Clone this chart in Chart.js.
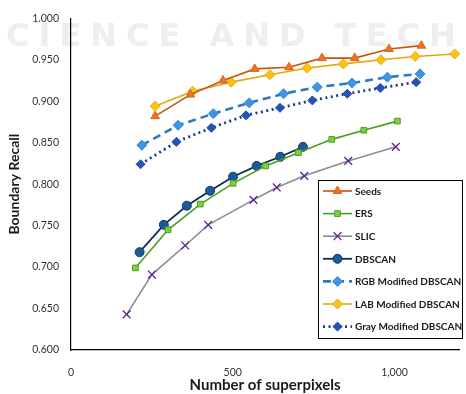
<!DOCTYPE html>
<html>
<head>
<meta charset="utf-8">
<script src="https://cdn.jsdelivr.net/npm/chart.js@4/dist/chart.umd.min.js"></script>
<style>
html,body{margin:0;padding:0;background:#fff;}
#wrap{width:466px;height:394px;position:relative;}
</style>
</head>
<body>
<div id="wrap"><canvas id="c" width="466" height="394"></canvas></div>
<script>
// ---- Data ----
const seriesNames = ["Seeds","ERS","SLIC","DBSCAN","RGB Modified DBSCAN","LAB Modified DBSCAN","Gray Modified DBSCAN"];
const seedsX = [260,369,470,568,674,776,877,983,1083];
const seedsY = [0.882,0.908,0.925,0.939,0.941,0.952,0.952,0.963,0.967];
const ersX = [199,300,400,501,602,703,806,905,1009];
const ersY = [0.699,0.745,0.776,0.801,0.822,0.838,0.854,0.865,0.876];
const slicX = [172,250,353,424,564,636,721,857,1004];
const slicY = [0.643,0.691,0.726,0.751,0.781,0.796,0.810,0.828,0.845];
const dbscanX = [212,287,358,430,501,574,647,717];
const dbscanY = [0.718,0.751,0.774,0.792,0.809,0.822,0.833,0.845];
const rgbX = [219,331,440,551,657,761,869,978,1079];
const rgbY = [0.847,0.871,0.885,0.898,0.909,0.917,0.922,0.929,0.933];
const labX = [260,376,495,615,730,842,958,1064,1186];
const labY = [0.894,0.912,0.923,0.932,0.940,0.945,0.950,0.954,0.957];
const grayX = [215,326,434,541,646,746,854,956,1067];
const grayY = [0.824,0.851,0.868,0.883,0.892,0.901,0.909,0.916,0.923];
const xTicks = [0,500,1000];
const yTicks = [0.600,0.650,0.700,0.750,0.800,0.850,0.900,0.950,1.000];

const pts = (xs, ys) => xs.map((x, i) => ({x: x, y: ys[i]}));

const datasets = [
  {label: seriesNames[0], data: pts(seedsX, seedsY), borderColor:'#c5560f', backgroundColor:'#ee7320', pointBorderColor:'#d9661a',
   pointStyle:'triangle', pointRadius:5, borderWidth:1.6, pointBorderWidth:1},
  {label: seriesNames[1], data: pts(ersX, ersY), borderColor:'#4a9e24', backgroundColor:'#7fd13b', pointBorderColor:'#4a9e24',
   pointStyle:'rect', pointRadius:4, borderWidth:1.6, pointBorderWidth:1},
  {label: seriesNames[2], data: pts(slicX, slicY), borderColor:'#8c8c8c', backgroundColor:'#6a2c9e', pointBorderColor:'#5b2390',
   pointStyle:'crossRot', pointRadius:5.5, borderWidth:1.6, pointBorderWidth:1.3},
  {label: seriesNames[3], data: pts(dbscanX, dbscanY), borderColor:'#0f2d4f', backgroundColor:'#1d5a9a', pointBorderColor:'#0f3a66',
   pointStyle:'circle', pointRadius:4.5, borderWidth:1.8, pointBorderWidth:1},
  {label: seriesNames[4], data: pts(rgbX, rgbY), borderColor:'#2f78c2', backgroundColor:'#3f95e0', pointBorderColor:'#3a8bd6',
   pointStyle:'rectRot', pointRadius:5, borderWidth:2.6, borderDash:[8,5], pointBorderWidth:1},
  {label: seriesNames[5], data: pts(labX, labY), borderColor:'#e4a70a', backgroundColor:'#ffc20e', pointBorderColor:'#e9ad10',
   pointStyle:'rectRot', pointRadius:5, borderWidth:1.6, pointBorderWidth:1},
  {label: seriesNames[6], data: pts(grayX, grayY), borderColor:'#1c3d8f', backgroundColor:'#2554b8', pointBorderColor:'#1f48a6',
   pointStyle:'rectRot', pointRadius:4.5, borderWidth:2.8, borderDash:[2,3.5], pointBorderWidth:1}
];
datasets.forEach(d => { d.fill = false; d.tension = 0; d.pointBackgroundColor = d.backgroundColor; d.clip = false; });

const watermark = {
  id: 'watermark',
  beforeDraw(chart) {
    const ctx = chart.ctx;
    ctx.save();
    ctx.fillStyle = '#eeeeee';
    ctx.font = 'bold 32px "DejaVu Sans"';
    ctx.textBaseline = 'alphabetic';
    const txt = 'SCIENCE AND TECHNOLOGY';
    let x = -26;
    for (const ch of txt) {
      ctx.fillText(ch, x, 46);
      x += ctx.measureText(ch).width + 9;
    }
    ctx.restore();
  }
};

const customLegend = {
  id: 'customLegend',
  afterDraw(chart) {
    const ctx = chart.ctx;
    const bx = 318, by = 180, bw = 144, bh = 158;
    ctx.save();
    ctx.fillStyle = '#ffffff';
    ctx.fillRect(bx, by, bw, bh);
    ctx.strokeStyle = '#000000';
    ctx.lineWidth = 1;
    ctx.strokeRect(bx + 0.5, by + 0.5, bw, bh);
    chart.data.datasets.forEach((d, i) => {
      const y = 191 + i * 22.6;
      ctx.save();
      ctx.strokeStyle = d.borderColor;
      ctx.lineWidth = d.borderWidth;
      ctx.setLineDash(d.borderDash || []);
      ctx.beginPath();
      ctx.moveTo(323, y);
      ctx.lineTo(352, y);
      ctx.stroke();
      ctx.setLineDash([]);
      ctx.fillStyle = d.backgroundColor;
      ctx.strokeStyle = d.pointBorderColor;
      ctx.lineWidth = d.pointBorderWidth;
      Chart.helpers.drawPoint(ctx, {pointStyle: d.pointStyle, radius: d.pointRadius, rotation: 0, borderWidth: d.pointBorderWidth}, 337.5, y);
      ctx.restore();
      ctx.fillStyle = '#1a1a1a';
      ctx.font = 'bold 10px Lato';
      ctx.textBaseline = 'middle';
      ctx.textAlign = 'left';
      ctx.fillText(d.label, 355, y + 0.5);
    });
    ctx.restore();
  }
};

new Chart(document.getElementById('c'), {
  type: 'line',
  data: { datasets: datasets },
  plugins: [watermark, customLegend],
  options: {
    responsive: false,
    animation: false,
    events: [],
    layout: { padding: { left: 6, top: 12, right: 0, bottom: 0 } },
    plugins: { legend: { display: false }, tooltip: { enabled: false } },
    scales: {
      x: {
        type: 'linear', min: 0, max: 1200,
        afterBuildTicks(scale) { scale.ticks = xTicks.map(v => ({value: v})); },
        afterFit(scale) { scale.height = 44; },
        grid: { display: false, drawTicks: false },
        border: { display: true, color: '#000000', width: 1.2 },
        ticks: { padding: 16, color: '#333333', font: { family: 'Lato', size: 10.5 },
                 callback: v => v.toLocaleString('en-US') },
        title: { display: true, text: 'Number of superpixels', color: '#1a1a1a',
                 font: { family: 'Lato', size: 15, weight: 'bold' }, padding: { top: 0, bottom: 0 } }
      },
      y: {
        type: 'linear', min: 0.6, max: 1.0,
        afterBuildTicks(scale) { scale.ticks = yTicks.map(v => ({value: v})); },
        afterFit(scale) { scale.width = 65; },
        grid: { display: false, drawTicks: false },
        border: { display: true, color: '#000000', width: 1.2 },
        ticks: { padding: 12, color: '#333333', font: { family: 'Lato', size: 10.5 },
                 callback: v => Number(v).toFixed(3) },
        title: { display: true, text: 'Boundary Recall', color: '#1a1a1a',
                 font: { family: 'Lato', size: 14, weight: 'bold' }, padding: { top: 0, bottom: 0 } }
      }
    }
  }
});
</script>
</body>
</html>
